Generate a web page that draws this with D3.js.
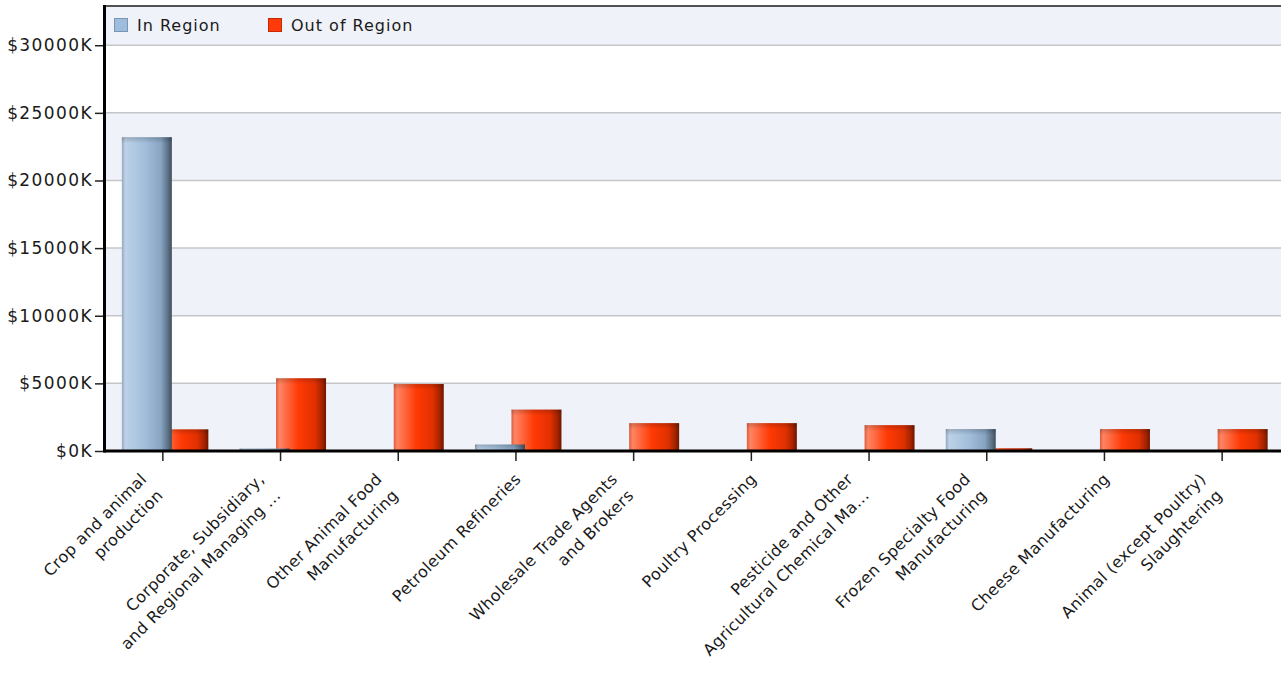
<!DOCTYPE html>
<html>
<head>
<meta charset="utf-8">
<script src="https://cdn.jsdelivr.net/npm/d3@7"></script>
<style>
  body { margin: 0; background: #fff; }
  text { font-family: "DejaVu Sans", sans-serif; fill: #1a1a1a; }
</style>
</head>
<body>
<div id="container"></div>
<script>
var WIDTH = 1281,
	HEIGHT = 673,
	LEFT = 104,
	TOP = 6,
	BOTTOM = 451;

// data (values in $K)
var categories = ['Crop and animal production', 'Corporate, Subsidiary, and Regional Managing',
	'Other Animal Food Manufacturing', 'Petroleum Refineries', 'Wholesale Trade Agents and Brokers',
	'Poultry Processing', 'Pesticide and Other Agricultural Chemical Manufacturing',
	'Frozen Specialty Food Manufacturing', 'Cheese Manufacturing', 'Animal (except Poultry) Slaughtering'];
var tickLabels = [
	['Crop and animal', 'production'],
	['Corporate, Subsidiary,', 'and Regional Managing ...'],
	['Other Animal Food', 'Manufacturing'],
	['Petroleum Refineries'],
	['Wholesale Trade Agents', 'and Brokers'],
	['Poultry Processing'],
	['Pesticide and Other', 'Agricultural Chemical Ma...'],
	['Frozen Specialty Food', 'Manufacturing'],
	['Cheese Manufacturing'],
	['Animal (except Poultry)', 'Slaughtering']
];
var series = ['In Region', 'Out of Region'];
var inRegion = [23200, 180, 0, 480, 0, 0, 0, 1620, 0, 0];
var outRegion = [1600, 5380, 4950, 3060, 2060, 2060, 1910, 200, 1620, 1620];
var yTicks = [0, 5000, 10000, 15000, 20000, 25000, 30000];

var xScale = d3.scaleBand().domain(categories).range([LEFT, WIDTH]).padding(0);
var yScale = d3.scaleLinear().domain([0, 32900]).range([BOTTOM, TOP]);
// offset of each series bar from the category centre
var sScale = d3.scalePoint().domain(series).range([-41, -4.5]);
var BAR_W = 50;

var translate = function (x, y) {
	return "translate(" + x + "," + y + ")";
};

var svg = d3.select('#container').append('svg')
	.attr('width', WIDTH)
	.attr('height', HEIGHT);

var defs = svg.append('defs');
function addGrad(id, stops) {
	var g = defs.append('linearGradient').attr('id', id)
		.attr('x1', '0%').attr('x2', '100%').attr('y1', '0%').attr('y2', '0%');
	stops.forEach(function (s) {
		g.append('stop').attr('offset', s[0]).attr('stop-color', s[1]);
	});
}
addGrad('gBlue', [['0%', '#93a9c0'], ['7%', '#bdd1e7'], ['45%', '#a3bfdc'], ['78%', '#87a4c2'], ['92%', '#5d7287'], ['100%', '#3f4f5e']]);
addGrad('gRed', [['0%', '#d9603f'], ['7%', '#ff8463'], ['45%', '#ff3a05'], ['78%', '#e03000'], ['92%', '#a52300'], ['100%', '#6e1600']]);
var capGrad = defs.append('linearGradient').attr('id', 'gCap')
	.attr('x1', '0%').attr('x2', '0%').attr('y1', '0%').attr('y2', '100%');
capGrad.append('stop').attr('offset', '0%').attr('stop-color', '#000').attr('stop-opacity', 0.18);
capGrad.append('stop').attr('offset', '100%').attr('stop-color', '#000').attr('stop-opacity', 0);

// alternating bands
var bandEdges = yTicks.concat([yScale.domain()[1]]);
svg.append('g').selectAll('rect').data(d3.range(bandEdges.length - 1)).enter()
	.append('rect')
	.attr('x', LEFT)
	.attr('width', WIDTH - LEFT)
	.attr('y', function (i) { return yScale(bandEdges[i + 1]); })
	.attr('height', function (i) { return yScale(bandEdges[i]) - yScale(bandEdges[i + 1]); })
	.attr('fill', function (i) { return i % 2 === 0 ? '#eff2f8' : '#ffffff'; });

// gridlines
svg.append('g').selectAll('line').data(yTicks.slice(1)).enter()
	.append('line')
	.attr('x1', LEFT).attr('x2', WIDTH)
	.attr('y1', function (d) { return yScale(d); })
	.attr('y2', function (d) { return yScale(d); })
	.attr('stroke', '#c4c6ca')
	.attr('stroke-width', 1.5);

// bars: out of region first, in region drawn over it
var barData = [];
categories.forEach(function (c, i) {
	barData.push({ cat: c, s: series[1], v: outRegion[i], fill: 'url(#gRed)' });
});
categories.forEach(function (c, i) {
	barData.push({ cat: c, s: series[0], v: inRegion[i], fill: 'url(#gBlue)' });
});
barData = barData.filter(function (d) { return d.v > 0; });

var bars = svg.append('g').selectAll('g').data(barData).enter().append('g');
bars.append('rect')
	.attr('x', function (d) { return xScale(d.cat) + xScale.bandwidth() / 2 + sScale(d.s); })
	.attr('y', function (d) { return yScale(d.v); })
	.attr('width', BAR_W)
	.attr('height', function (d) { return BOTTOM - yScale(d.v); })
	.attr('fill', function (d) { return d.fill; });
bars.append('rect')
	.attr('x', function (d) { return xScale(d.cat) + xScale.bandwidth() / 2 + sScale(d.s); })
	.attr('y', function (d) { return yScale(d.v); })
	.attr('width', BAR_W)
	.attr('height', function (d) { return Math.min(6, BOTTOM - yScale(d.v)); })
	.attr('fill', 'url(#gCap)');

// y axis
var yAxis = d3.axisLeft(yScale).tickValues(yTicks).tickSize(9).tickPadding(2)
	.tickFormat(function (d) { return '$' + d + 'K'; });
var gy = svg.append('g').attr('transform', translate(LEFT, 0)).call(yAxis);
gy.select('.domain').remove();
gy.selectAll('.tick line').attr('stroke', '#222').attr('stroke-width', 1.5);
gy.selectAll('.tick text').style('font-size', '17px').style('letter-spacing', '1.4px')
	.attr('fill', '#1a1a1a');

// x axis
var xAxis = d3.axisBottom(xScale).tickSize(10).tickFormat('');
var gx = svg.append('g').attr('transform', translate(0, BOTTOM)).call(xAxis);
gx.select('.domain').remove();
gx.selectAll('.tick line').attr('stroke', '#222').attr('stroke-width', 1.5);

// rotated category labels
var labels = svg.append('g').selectAll('text').data(categories).enter()
	.append('text')
	.attr('text-anchor', 'end')
	.style('font-size', '16px')
	.style('letter-spacing', '0.4px')
	.attr('transform', function (d, i) {
		var cx = xScale(d) + xScale.bandwidth() / 2;
		return translate(cx + 6, 480) + ' rotate(-45)';
	});
labels.each(function (d, i) {
	var lines = tickLabels[i];
	var t = d3.select(this);
	lines.forEach(function (ln, k) {
		t.append('tspan')
			.attr('x', lines.length > 1 ? -15 : 0)
			.attr('y', lines.length > 1 ? -15 + k * 23 : 0)
			.text(ln);
	});
});

// frame lines
svg.append('line').attr('x1', LEFT).attr('x2', WIDTH).attr('y1', TOP).attr('y2', TOP)
	.attr('stroke', '#1a1a1a').attr('stroke-width', 1.5);
svg.append('line').attr('x1', LEFT + 0.5).attr('x2', LEFT + 0.5).attr('y1', TOP - 1).attr('y2', BOTTOM + 1.5)
	.attr('stroke', '#000').attr('stroke-width', 3);
svg.append('line').attr('x1', LEFT).attr('x2', WIDTH).attr('y1', BOTTOM).attr('y2', BOTTOM)
	.attr('stroke', '#000').attr('stroke-width', 3);

// legend
var legendX = [114, 268];
var legendFill = ['#9ebddc', '#ff3a0a'];
var legendStroke = ['#7895b4', '#c42a00'];
var legend = svg.append('g').selectAll('g').data(series).enter().append('g')
	.attr('transform', function (d, i) { return translate(legendX[i], 18); });
legend.append('rect')
	.attr('x', 0.5).attr('y', 0.5).attr('width', 13).attr('height', 13)
	.attr('fill', function (d, i) { return legendFill[i]; })
	.attr('stroke', function (d, i) { return legendStroke[i]; });
legend.append('text')
	.attr('x', 23).attr('y', 13)
	.style('font-size', '16px')
	.style('letter-spacing', '1px')
	.text(function (d) { return d; });
</script>
</body>
</html>
